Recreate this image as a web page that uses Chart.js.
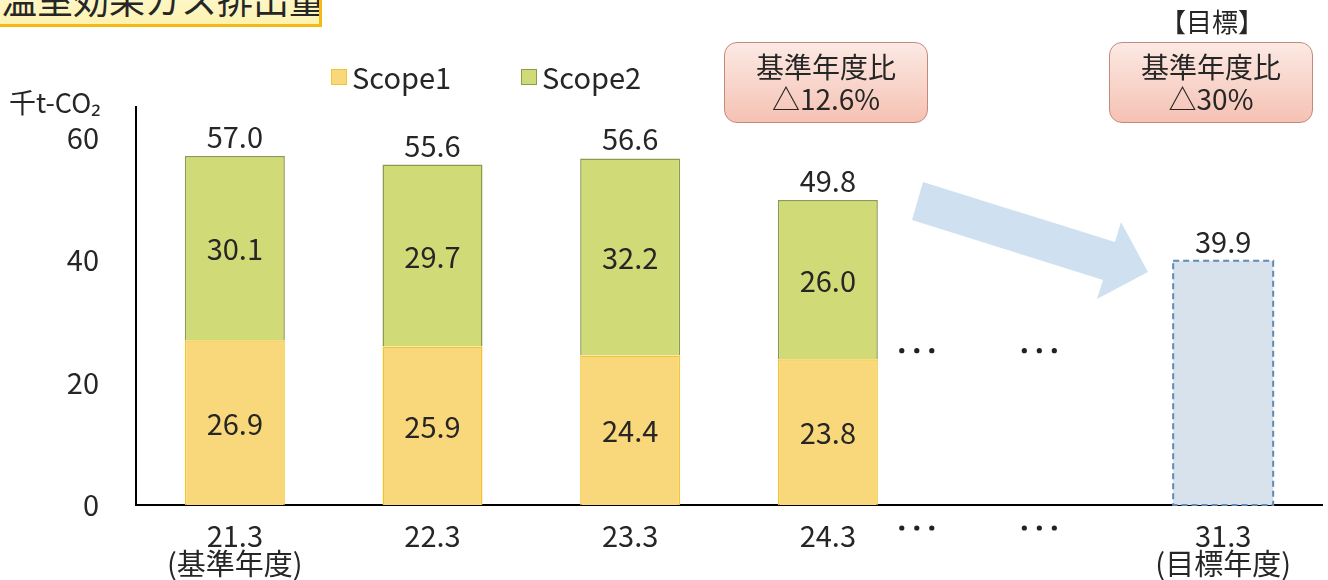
<!DOCTYPE html>
<html lang="ja">
<head>
<meta charset="utf-8">
<script src="https://cdn.jsdelivr.net/npm/chart.js@4.4.1/dist/chart.umd.min.js"></script>
<style>
  body { margin: 0; background: #fff; font-family: "Noto Sans CJK JP", "Noto Sans", sans-serif; color: #262626; }
  #wrap { position: relative; width: 1328px; height: 580px; overflow: hidden; }
  canvas { position: absolute; left: 0; top: 0; }
  .title-box {
    position: absolute; left: -4px; top: -34px; width: 326px; height: 61px;
    background: linear-gradient(#fffbe0, #fdf3b0);
    border: 3px solid #f5b914; box-sizing: border-box;
    font-size: 36px; line-height: 58px; padding-left: 2px; white-space: nowrap; overflow: hidden;
  }
  .unit { position: absolute; left: 9px; top: 84px; font-size: 27px; line-height: 36px; }
  .callout {
    position: absolute; top: 42px; width: 204px; height: 81px; box-sizing: border-box;
    border: 1.5px solid #c38a7c; border-radius: 13px;
    background: linear-gradient(#fce9e4, #f5c2b3);
    text-align: center; font-size: 28px; line-height: 32px; padding-top: 7px;
  }
  .goal { position: absolute; top: 2px; left: 1110px; width: 204px; text-align: center; font-size: 26px; }
  svg { position: absolute; left: 0; top: 0; }
</style>
</head>
<body>
<div id="wrap">
  <canvas id="ghgChart" width="1328" height="580"></canvas>
  <svg width="1328" height="580">
    <polygon points="923,182 1115,242 1121,222 1148,272 1097,299 1103,280 912,220" fill="#cfe1f0"/>
  </svg>
  <div class="title-box">温室効果ガス排出量</div>
  <div class="unit">千t-CO₂</div>
  <div class="callout" style="left:724px">基準年度比<br>△12.6%</div>
  <div class="goal">【目標】</div>
  <div class="callout" style="left:1109px">基準年度比<br>△30%</div>
</div>
<script>
const categories = [['21.3', '(基準年度)'], '22.3', '23.3', '24.3', '', ['31.3', '(目標年度)']];
const scope1 = [26.9, 25.9, 24.4, 23.8, null, null];
const scope2 = [30.1, 29.7, 32.2, 26.0, null, null];
const target = [null, null, null, null, null, 39.9];
const yTicks = [0, 20, 40, 60];
// where the "…" marks sit, in category units
const ellipsisAt = [3.45, 4.07];

const FONT = '"Noto Sans CJK JP", "Noto Sans", sans-serif';
const TEXT = '#262626';

const labelPlugin = {
    id: 'labels',
    afterDatasetsDraw(chart) {
        const ctx = chart.ctx;
        const x = chart.scales.x, y = chart.scales.y;
        ctx.save();

        // dashed outline for target bar
        const tMeta = chart.getDatasetMeta(2);
        tMeta.data.forEach(function (bar, i) {
            if (target[i] == null) return;
            ctx.setLineDash([6, 4]);
            ctx.strokeStyle = '#5e8ab4';
            ctx.lineWidth = 2;
            ctx.strokeRect(bar.x - bar.width / 2, bar.y, bar.width, bar.base - bar.y);
            ctx.setLineDash([]);
        });

        ctx.font = '29px ' + FONT;
        ctx.fillStyle = TEXT;
        ctx.textAlign = 'center';
        ctx.textBaseline = 'middle';

        [0, 1].forEach(function (d) {
            const meta = chart.getDatasetMeta(d);
            const vals = chart.data.datasets[d].data;
            meta.data.forEach(function (bar, i) {
                if (vals[i] == null) return;
                ctx.fillText(vals[i].toFixed(1), bar.x, (bar.y + bar.base) / 2 + 1);
            });
        });

        // totals on top
        scope1.forEach(function (v, i) {
            if (v == null) return;
            const total = v + scope2[i];
            ctx.fillText(total.toFixed(1), x.getPixelForValue(i), y.getPixelForValue(total) - 19);
        });
        target.forEach(function (v, i) {
            if (v == null) return;
            ctx.fillText(v.toFixed(1), x.getPixelForValue(i), y.getPixelForValue(v) - 19);
        });

        // ellipsis dots in plot and under axis
        ctx.fillStyle = '#222';
        ellipsisAt.forEach(function (pos) {
            const cx = x.getPixelForValue(pos);
            [y.getPixelForValue(25.2), y.bottom + 23].forEach(function (cy) {
                [-15, 0, 15].forEach(function (dx) {
                    ctx.beginPath();
                    ctx.arc(cx + dx, cy, 2.6, 0, Math.PI * 2);
                    ctx.fill();
                });
            });
        });

        // legend
        const legendItems = [
            { text: 'Scope1', ds: 0, x: 331 },
            { text: 'Scope2', ds: 1, x: 521 }
        ];
        ctx.textAlign = 'left';
        legendItems.forEach(function (item) {
            const ds = chart.data.datasets[item.ds];
            ctx.fillStyle = ds.backgroundColor;
            ctx.fillRect(item.x, 69, 16, 16);
            ctx.strokeStyle = ds.borderColor;
            ctx.lineWidth = 1;
            ctx.strokeRect(item.x + 0.5, 69.5, 15, 15);
            ctx.fillStyle = TEXT;
            ctx.fillText(item.text, item.x + 21, 78);
        });
        ctx.restore();
    }
};

new Chart(document.getElementById('ghgChart').getContext('2d'), {
    type: 'bar',
    data: {
        labels: categories,
        datasets: [
            { label: 'Scope1', data: scope1, backgroundColor: '#f9d87b', borderColor: '#f5c430', borderWidth: 1.5 },
            { label: 'Scope2', data: scope2, backgroundColor: '#d0da76', borderColor: '#8d9a4b', borderWidth: 1.5 },
            { label: '目標', data: target, backgroundColor: '#d8e2ec', borderWidth: 0 }
        ]
    },
    options: {
        responsive: false,
        animation: false,
        layout: { padding: { top: 107, right: 6, left: 0, bottom: 0 } },
        datasets: { bar: { barPercentage: 0.506, categoryPercentage: 1 } },
        plugins: {
            legend: { display: false },
            tooltip: { enabled: false }
        },
        scales: {
            x: {
                stacked: true,
                grid: { display: false, drawTicks: false },
                border: { display: true, color: '#000', width: 2 },
                ticks: { padding: 17, color: TEXT, font: { family: FONT, size: 29, lineHeight: 0.97 }, maxRotation: 0, autoSkip: false },
                afterFit(scale) { scale.height = 75; }
            },
            y: {
                stacked: true,
                min: 0,
                max: 65,
                grid: { display: false, drawTicks: false },
                border: { display: true, color: '#000', width: 2 },
                ticks: { stepSize: 20, padding: 37, color: TEXT, font: { family: FONT, size: 29 } },
                afterBuildTicks(scale) {
                    scale.ticks = yTicks.map(function (v) { return { value: v }; });
                },
                afterFit(scale) { scale.width = 136; }
            }
        }
    },
    plugins: [labelPlugin]
});
</script>
</body>
</html>
